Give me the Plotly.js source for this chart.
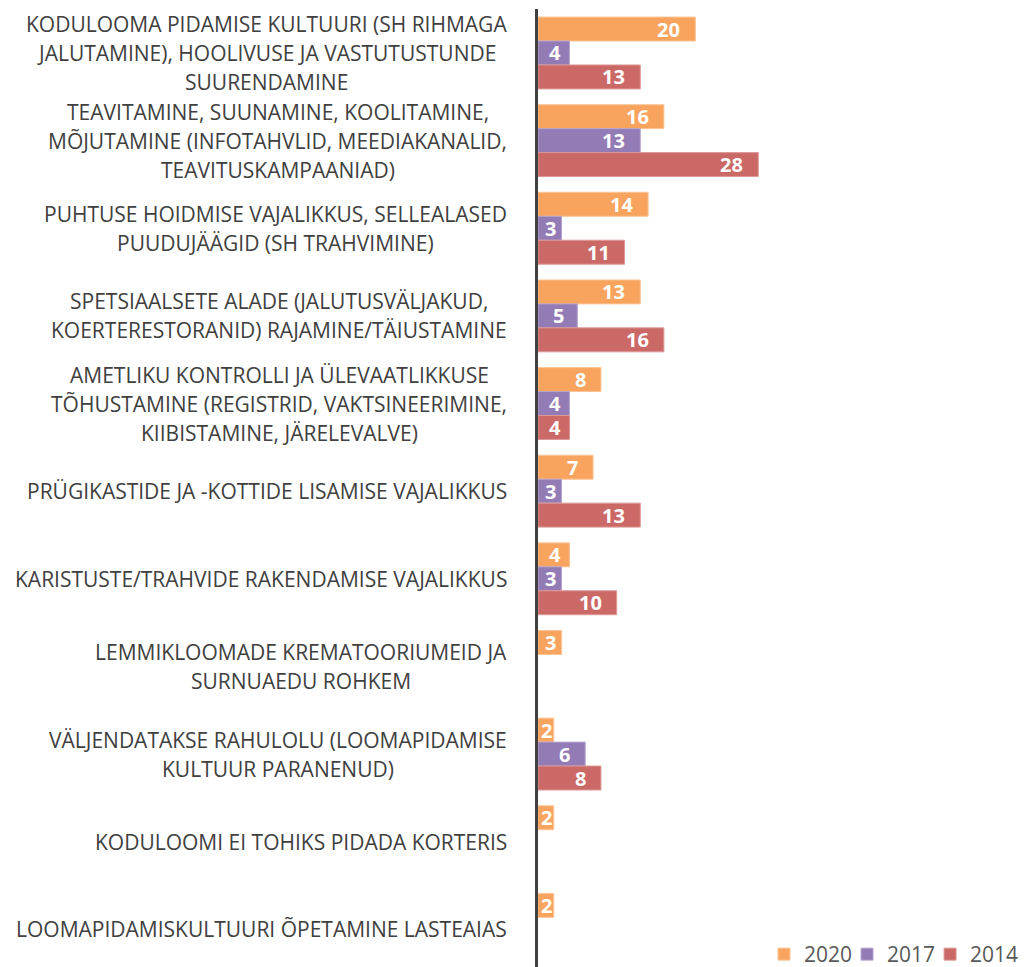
<!DOCTYPE html>
<html><head><meta charset="utf-8">
<script src="https://cdn.plot.ly/plotly-3.0.1.min.js"></script>
<style>html,body{margin:0;background:#fff;overflow:hidden}#chart{width:1024px;height:975px}</style>
</head><body><div id="chart"></div>
<script>
const categories = [
  "KODULOOMA PIDAMISE KULTUURI (SH RIHMAGA\nJALUTAMINE), HOOLIVUSE JA VASTUTUSTUNDE\nSUURENDAMINE",
  "TEAVITAMINE, SUUNAMINE, KOOLITAMINE,\nMÕJUTAMINE (INFOTAHVLID, MEEDIAKANALID,\nTEAVITUSKAMPAANIAD)",
  "PUHTUSE HOIDMISE VAJALIKKUS, SELLEALASED\nPUUDUJÄÄGID (SH TRAHVIMINE)",
  "SPETSIAALSETE ALADE (JALUTUSVÄLJAKUD,\nKOERTERESTORANID) RAJAMINE/TÄIUSTAMINE",
  "AMETLIKU KONTROLLI JA ÜLEVAATLIKKUSE\nTÕHUSTAMINE (REGISTRID, VAKTSINEERIMINE,\nKIIBISTAMINE, JÄRELEVALVE)",
  "PRÜGIKASTIDE JA -KOTTIDE LISAMISE VAJALIKKUS",
  "KARISTUSTE/TRAHVIDE RAKENDAMISE VAJALIKKUS",
  "LEMMIKLOOMADE KREMATOORIUMEID JA\nSURNUAEDU ROHKEM",
  "VÄLJENDATAKSE RAHULOLU (LOOMAPIDAMISE\nKULTUUR PARANENUD)",
  "KODULOOMI EI TOHIKS PIDADA KORTERIS",
  "LOOMAPIDAMISKULTUURI ÕPETAMINE LASTEAIAS"
];
const values2020 = [20, 16, 14, 13, 8, 7, 4, 3, 2, 2, 2];
const values2017 = [4, 13, 3, 5, 4, 3, 3, null, 6, null, null];
const values2014 = [13, 28, 11, 16, 4, 13, 10, null, 8, null, null];
const seriesNames = ["2020", "2017", "2014"];
const seriesColors = ["#F9A45E", "#937BB6", "#CB6967"];
const seriesLines = ["#FBC496", "#B7A5CD", "#DD9896"];

const FONT = "'Open Sans', 'Noto Sans', sans-serif";
const allValues = [values2020, values2017, values2014];

const FIG_W = 1024, FIG_H = 975;
const MARGIN = { l: 538, r: 0, t: 9, b: 0 };
const PLOT_W = FIG_W - MARGIN.l - MARGIN.r;
const PX_PER_UNIT = 7.9;
const X_MAX = PLOT_W / PX_PER_UNIT;
const BARGAP = 0.18;
const SLOT = (1 - BARGAP) / allValues.length;

const traces = allValues.map((vals, i) => ({
  type: "bar",
  orientation: "h",
  name: seriesNames[i],
  y: categories.map((c, k) => k),
  x: vals,
  marker: { color: seriesColors[i], line: { color: seriesLines[i], width: 1 } },
  textposition: "none",
  hoverinfo: "x+name"
}));

const canvas = document.createElement("canvas");
const ctx = canvas.getContext("2d");
const annotations = [];

// category labels: each line separately; lines centred within a right-aligned block
ctx.font = "21px 'Open Sans'";
const LINE_H = 29;
categories.forEach((cat, k) => {
  const lines = cat.split("\n");
  const maxW = Math.max(...lines.map(l => ctx.measureText(l).width));
  lines.forEach((line, j) => {
    annotations.push({
      xref: "paper", yref: "y", x: 0, y: k,
      xanchor: "center", yanchor: "middle",
      xshift: -31 - maxW / 2,
      yshift: ((lines.length - 1) / 2 - j) * LINE_H,
      text: line, showarrow: false, borderpad: 0,
      font: { family: FONT, size: 21, color: "#404040" }
    });
  });
});

// data labels: inside end of each bar, centred in the bar when it is short
ctx.font = "bold 20px 'Open Sans'";
allValues.forEach((vals, i) => {
  vals.forEach((v, k) => {
    if (v === null) return;
    const t = String(v);
    const w = ctx.measureText(t).width;
    const barPx = v * PX_PER_UNIT;
    const shift = Math.max(-16 - w / 2, -barPx / 2);
    annotations.push({
      xref: "x", yref: "y", x: v, y: k + (i - (allValues.length - 1) / 2) * SLOT,
      xanchor: "center", yanchor: "middle", xshift: shift + 1,
      text: t, showarrow: false, borderpad: 0,
      font: { family: FONT, size: 20, color: "#FFFFFF", weight: "bold" }
    });
  });
});

const layout = {
  width: FIG_W, height: FIG_H,
  margin: { l: MARGIN.l, r: MARGIN.r, t: MARGIN.t, b: MARGIN.b, pad: 0 },
  paper_bgcolor: "#FFFFFF", plot_bgcolor: "#FFFFFF",
  barmode: "group", bargap: BARGAP, bargroupgap: 0,
  font: { family: FONT, size: 18, color: "#404040" },
  xaxis: { range: [0, X_MAX], showgrid: false, zeroline: false, showticklabels: false, showline: false, fixedrange: true },
  yaxis: { range: [10.521, -0.502], showticklabels: false, showgrid: false, zeroline: false,
           showline: true, linecolor: "#404040", linewidth: 3, ticks: "", fixedrange: true },
  showlegend: true,
  legend: { orientation: "h", x: 0.4877, xanchor: "left", y: 0, yanchor: "bottom", indentation: -10,
            font: { family: FONT, size: 21, color: "#595959" }, bgcolor: "rgba(0,0,0,0)", traceorder: "normal" },
  annotations: annotations
};

Plotly.newPlot("chart", traces, layout, { displayModeBar: false, staticPlot: true });
</script>
</body></html>
